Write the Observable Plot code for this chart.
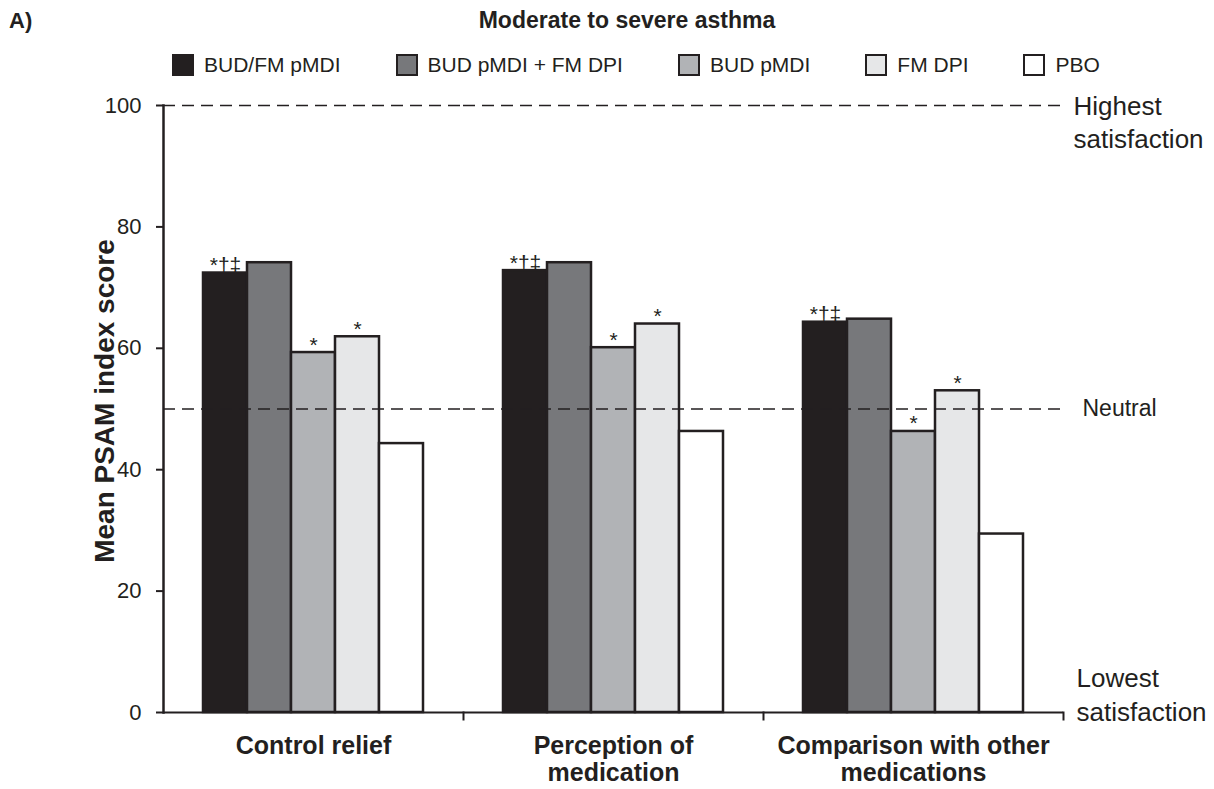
<!DOCTYPE html>
<html>
<head>
<meta charset="utf-8">
<script src="https://cdn.jsdelivr.net/npm/d3@7"></script>
<script src="https://cdn.jsdelivr.net/npm/@observablehq/plot@0.6"></script>
<style>
  body { margin: 0; background: #fff; font-family: "Liberation Sans", Arial, sans-serif; color: #231f20; }
  #wrap { position: relative; width: 1214px; height: 789px; overflow: hidden; }
  #panel { position: absolute; left: 9px; top: 8px; font-weight: bold; font-size: 22px; }
  #title { position: absolute; left: 20px; width: 1214px; top: 7px; text-align: center; font-weight: bold; font-size: 23px; }
  #legend { position: absolute; left: 172px; top: 53px; display: flex; gap: 55px; font-size: 21px; line-height: 24px; }
  .item { display: flex; align-items: center; }
  .sw { width: 18px; height: 18px; border: 2.5px solid #231f20; margin-right: 10px; }
  #chart { position: absolute; left: 0; top: 88px; }
</style>
</head>
<body>
<div id="wrap">
  <div id="panel">A)</div>
  <div id="title">Moderate to severe asthma</div>
  <div id="legend"></div>
  <div id="chart"></div>
</div>
<script>
// ---- data ----
const categories = ["Control relief", "Perception of\nmedication", "Comparison with other\nmedications"];
const series = ["BUD/FM pMDI", "BUD pMDI + FM DPI", "BUD pMDI", "FM DPI", "PBO"];
const seriesColors = ["#231f20", "#77787b", "#b1b3b6", "#e6e7e8", "#ffffff"];
const controlRelief = [72.4, 74.1, 59.3, 61.9, 44.3];
const perceptionOfMedication = [72.8, 74.1, 60.1, 64.0, 46.3];
const comparisonWithOther = [64.3, 64.8, 46.3, 53.0, 29.4];
const sigLabels = ["*\u2020\u2021", "", "*", "*", ""];
const yTicks = [0, 20, 40, 60, 80, 100];
const refLineValues = [100, 50];
const refLabelTexts = ["Highest\nsatisfaction", "Neutral", "Lowest\nsatisfaction"];
const refLabelValues = [100, 50, 0];
const yLabel = "Mean PSAM index score";

// ---- table ----
const valuesByCategory = [controlRelief, perceptionOfMedication, comparisonWithOther];
const data = categories.flatMap((c, i) =>
  series.map((s, j) => ({category: c, series: s, value: valuesByCategory[i][j], sig: sigLabels[j]}))
);

// ---- legend ----
const legend = document.getElementById("legend");
series.forEach((s, j) => {
  const item = document.createElement("div");
  item.className = "item";
  const sw = document.createElement("div");
  sw.className = "sw";
  sw.style.background = seriesColors[j];
  const lab = document.createElement("span");
  lab.textContent = s;
  item.appendChild(sw);
  item.appendChild(lab);
  legend.appendChild(item);
});

const ink = "#231f20";
const font = "Liberation Sans, Arial, sans-serif";
const firstCat = categories[0];
const lastCat = categories[categories.length - 1];

const chart = Plot.plot({
  width: 1214,
  height: 701,
  marginLeft: 162,
  marginRight: 151,
  marginTop: 17,
  marginBottom: 77,
  style: {fontFamily: font, color: ink, background: "transparent", overflow: "visible"},
  fx: {domain: categories, paddingInner: 0, paddingOuter: 0, label: null},
  x: {domain: series, paddingInner: 0, paddingOuter: 0.837, axis: null},
  y: {domain: [0, 100], label: null, axis: null},
  color: {domain: series, range: seriesColors},
  marks: [
    Plot.barY(data, {fx: "category", x: "series", y: "value", fill: "series", stroke: ink, strokeWidth: 2.5}),
    Plot.ruleY(refLineValues, {stroke: ink, strokeWidth: 1.3, strokeDasharray: "12,7"}),
    Plot.text(data, {fx: "category", x: "series", y: "value", text: "sig", lineAnchor: "bottom", dy: -1, fontSize: 21, fill: ink}),
    Plot.ruleY([0], {stroke: ink, strokeWidth: 2}),
    Plot.frame({anchor: "right", stroke: ink, strokeWidth: 2, insetTop: 607, insetBottom: -7}),
    Plot.frame({anchor: "left", facetAnchor: "left", stroke: ink, strokeWidth: 2.5}),
    Plot.axisY({ticks: yTicks, tickSize: 7, tickPadding: 15, fontSize: 22, strokeWidth: 2, label: null, fill: ink}),
    Plot.axisFx({anchor: "bottom", tickSize: 0, tickPadding: 22, fontSize: 25, fontWeight: "bold", lineAnchor: "top", lineHeight: 1.08, label: null, fill: ink}),
    Plot.text([yLabel], {fx: () => firstCat, frameAnchor: "left", textAnchor: "middle", rotate: -90, dx: -58, dy: -8, fontSize: 28, fontWeight: "bold", fill: ink}),
    Plot.text([refLabelTexts[0]], {fx: () => lastCat, y: () => refLabelValues[0], frameAnchor: "right", textAnchor: "start", lineAnchor: "top", dx: 10, dy: -14, fontSize: 26, lineHeight: 1.27, fill: ink}),
    Plot.text([refLabelTexts[1]], {fx: () => lastCat, y: () => refLabelValues[1], frameAnchor: "right", textAnchor: "start", lineAnchor: "middle", dx: 19, fontSize: 23, fill: ink}),
    Plot.text([refLabelTexts[2]], {fx: () => lastCat, y: () => refLabelValues[2], frameAnchor: "right", textAnchor: "start", lineAnchor: "bottom", dx: 13, dy: 8, fontSize: 26, lineHeight: 1.27, fill: ink})
  ]
});
document.getElementById("chart").appendChild(chart);
</script>
</body>
</html>
